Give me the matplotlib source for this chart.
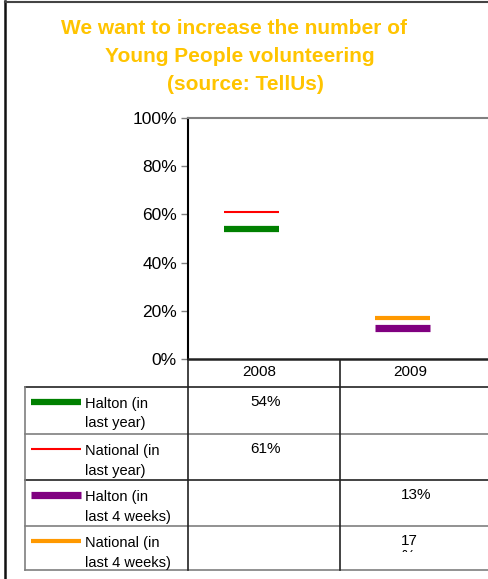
import matplotlib.pyplot as plt
from matplotlib.transforms import Bbox, TransformedBbox

plt.rcParams['font.family'] = ['Liberation Sans', 'DejaVu Sans']

# categories and series values (percent)
years = ['2008', '2009']
series_names = ['Halton (in\nlast year)', 'National (in\nlast year)',
                'Halton (in\nlast 4 weeks)', 'National (in\nlast 4 weeks)']
halton_year = [54, None]
national_year = [61, None]
halton_4wk = [None, 13]
national_4wk = [None, 17]
y_ticks = [0, 20, 40, 60, 80, 100]

series = [halton_year, national_year, halton_4wk, national_4wk]
colors = ['#008000', '#FF0000', '#800080', '#FF9900']
widths = [4.5, 1.5, 5.2, 3.0]

W, H = 488, 579
fig = plt.figure(figsize=(W / 100, H / 100), dpi=100)

# plot area
ax = fig.add_axes([188 / W, 1 - 359 / H, 300 / W, (359 - 118) / H])
ax.set_ylim(0, 100)
ax.set_xlim(-71 / 151, 229 / 151)
for vals, c, lw in zip(series, colors, widths):
    for i, v in enumerate(vals):
        if v is not None:
            ax.hlines(v, i - 0.23, i + 0.13, colors=c, linewidth=lw)

ax.set_yticks(y_ticks)
ax.set_yticklabels([f'{t}%' for t in y_ticks], fontsize=12.5)
ax.tick_params(axis='y', direction='out', length=5, width=1, color='#808080', pad=3)
ax.set_xticks([])
ax.spines['right'].set_visible(False)
ax.spines['top'].set_color('#808080')
ax.spines['top'].set_linewidth(1.5)
ax.spines['left'].set_linewidth(1.5)
ax.spines['bottom'].set_linewidth(1.8)
ax.spines['bottom'].set_color('#222222')

# overlay in pixel coordinates for title, border and data table
ov = fig.add_axes([0, 0, 1, 1], zorder=-1)
ov.set_xlim(0, W)
ov.set_ylim(H, 0)
ov.axis('off')

# frame
ov.plot([5, 5], [1, H], color='#111111', lw=1.8)
ov.plot([5, W], [1.5, 1.5], color='#444444', lw=1.5)

title_color = '#FFC400'
title_lines = ['We want to increase the number of', 'Young People volunteering',
               '(source: TellUs)']
for line, x, y in zip(title_lines, [234, 240, 245], [28, 56, 84]):
    ov.text(x, y, line, color=title_color, fontsize=15, fontweight='bold',
            ha='center', va='center')

# table grid
col_x = [25, 188, 340]
row_y = [387, 434, 480, 526, 570]
dark, grey = '#222222', '#7f7f7f'
for k, y in enumerate(row_y):
    ov.plot([col_x[0], W], [y, y], color=dark if k % 2 == 0 and k < 4 else grey, lw=1.2)
ov.plot([col_x[0], col_x[0]], [row_y[0], row_y[-1]], color=grey, lw=1.2)
ov.plot([col_x[1], col_x[1]], [359, row_y[-1]], color=dark, lw=1.2)
ov.plot([col_x[2], col_x[2]], [359, row_y[-1]], color=dark, lw=1.2)

# header row
for j, yr in enumerate(years):
    ov.text(col_x[1] + 71 + 151 * j, 372, yr, fontsize=11, ha='center', va='center')

# legend column and values
for r, (name, vals, c, lw) in enumerate(zip(series_names, series, colors, widths)):
    top = row_y[r]
    ov.plot([31, 81], [top + 15, top + 15], color=c, lw=lw, solid_capstyle='butt')
    ov.text(85, top + 10, name, fontsize=10.5, ha='left', va='top',
            linespacing=1.5)
    for j, v in enumerate(vals):
        if v is None:
            continue
        # the last cell is too narrow, so its value wraps and gets cut off
        label = f'{v}%' if r < 3 else f'{v}\n%'
        t = ov.text(col_x[1] + 62 + 151 * j, top + 8, label, fontsize=11,
                    ha='left', va='top', linespacing=1.1)
        t.set_clip_box(TransformedBbox(Bbox([[col_x[1] + 151 * j, top + 1],
                                             [W, top + 26]]), ov.transData))
        t.set_clip_on(True)

fig.savefig('out.png', dpi=100, facecolor='white')
